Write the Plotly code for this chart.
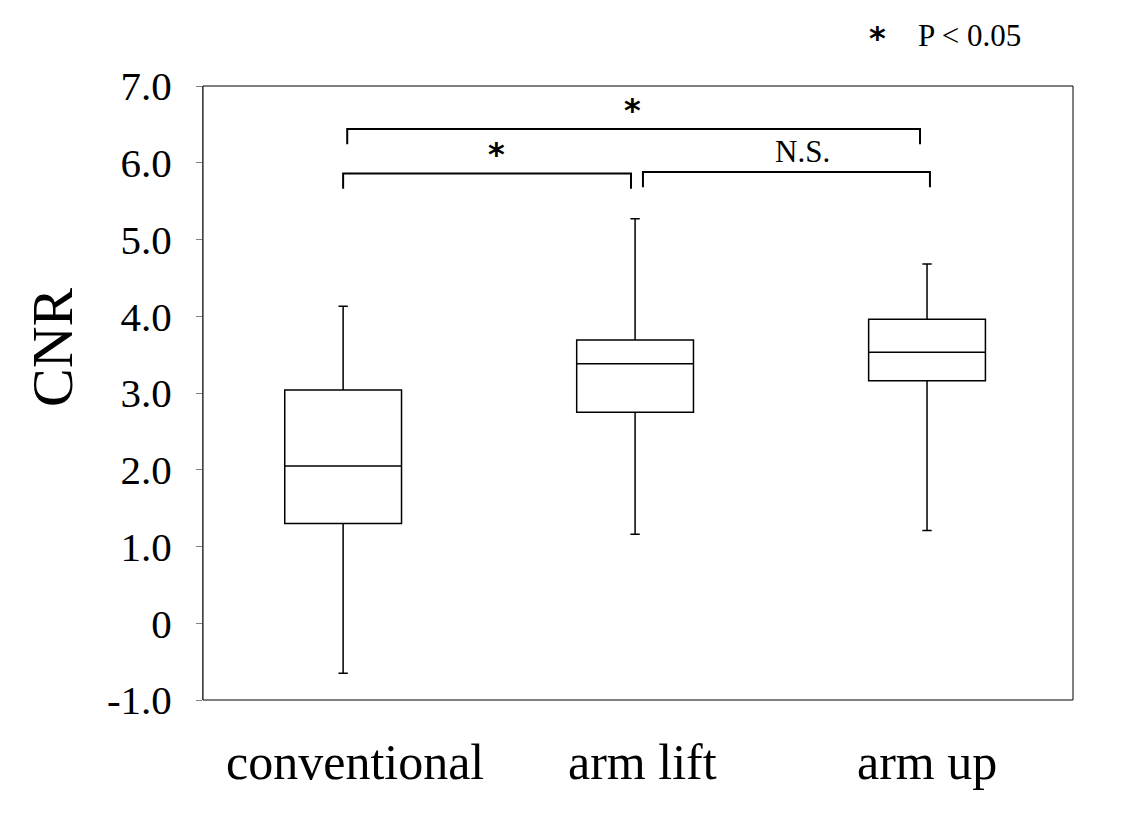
import plotly.graph_objects as go

groups = ["conventional", "arm lift", "arm up"]
lower = [-0.65, 1.16, 1.21]
q1 = [1.30, 2.75, 3.16]
median = [2.05, 3.38, 3.53]
q3 = [3.04, 3.69, 3.96]
upper = [4.13, 5.27, 4.68]

y_ticks = [-1, 0, 1, 2, 3, 4, 5, 6, 7]
y_tick_text = ["-1.0", "0", "1.0", "2.0", "3.0", "4.0", "5.0", "6.0", "7.0"]

# significance brackets: (x start, x end, y level, label, label x)
brackets = [
    (0.0, 0.986, 5.86, "*", 0.527),
    (1.027, 2.01, 5.88, "N.S.", 1.575),
    (0.014, 1.976, 6.44, "*", 0.99),
]
drop = 0.2

# category label positions (slightly off the box centres, as in the original)
label_x = [0.04, 1.024, 2.0]

serif = "Liberation Serif"

fig = go.Figure()
fig.add_trace(go.Box(
    x=[0, 1, 2], q1=q1, median=median, q3=q3,
    lowerfence=lower, upperfence=upper,
    width=0.4, whiskerwidth=0.08,
    fillcolor="white", line=dict(color="black", width=1.5),
    boxpoints=False, showlegend=False, hoverinfo="skip",
))

for x0, x1, yv, lab, lx in brackets:
    fig.add_shape(type="path", xref="x", yref="y",
                  path=f"M {x0} {yv - drop} L {x0} {yv} L {x1} {yv} L {x1} {yv - drop}",
                  line=dict(color="black", width=2))
    if lab == "*":
        fig.add_annotation(x=lx, y=yv, text="<b>*</b>", showarrow=False,
                           yanchor="bottom", yshift=-2,
                           font=dict(family="DejaVu Sans", size=32, color="black"))
    else:
        fig.add_annotation(x=lx, y=yv, text=lab, showarrow=False,
                           yanchor="bottom", yshift=1,
                           font=dict(family=serif, size=31, color="black"))

for lx, g in zip(label_x, groups):
    fig.add_annotation(x=lx, y=0, xref="x", yref="paper", text=g, showarrow=False,
                       yanchor="top", yshift=-32,
                       font=dict(family=serif, size=50, color="black"))

# legend note
fig.add_annotation(xref="paper", yref="paper", x=0.775, y=1.112, text="<b>*</b>",
                   showarrow=False, xanchor="center",
                   font=dict(family="DejaVu Sans", size=32, color="black"))
fig.add_annotation(xref="paper", yref="paper", x=0.819, y=1.114, text="P < 0.05",
                   showarrow=False, xanchor="left",
                   font=dict(family=serif, size=31, color="black"))

# y title
fig.add_annotation(xref="paper", yref="paper", x=-0.212, y=0.575, text="CNR",
                   textangle=-90, showarrow=False,
                   font=dict(family=serif, size=58, color="black"))

# plot frame
fig.add_shape(type="rect", xref="paper", yref="paper", x0=0, y0=0, x1=1, y1=1,
              line=dict(color="black", width=1))

fig.update_layout(
    width=1129, height=823,
    margin=dict(l=195, r=64, t=78, b=131),
    paper_bgcolor="white", plot_bgcolor="white",
    font=dict(family=serif, color="black"),
    xaxis=dict(range=[-0.48, 2.5], showticklabels=False,
               showgrid=False, zeroline=False, showline=False, ticks=""),
    yaxis=dict(range=[-1, 7], tickvals=y_ticks, ticktext=y_tick_text,
               showgrid=False, zeroline=False, showline=True, linecolor="gray",
               ticks="outside", ticklen=6, tickcolor="gray",
               tickfont=dict(size=41, family=serif), ticklabelstandoff=16),
)

fig.write_html("out.html")
